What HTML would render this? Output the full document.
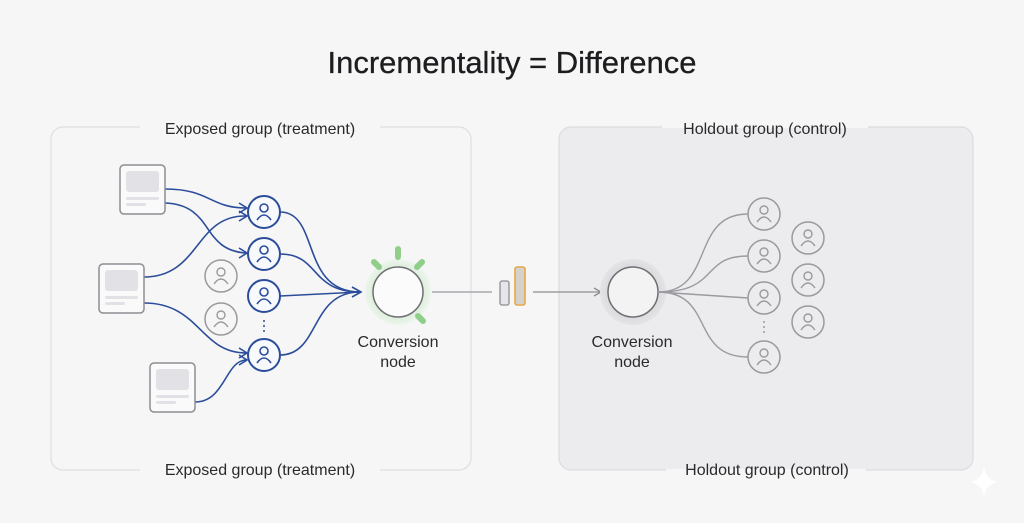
<!DOCTYPE html>
<html><head><meta charset="utf-8"><style>
html,body{margin:0;padding:0;background:#f6f6f7;}
svg{display:block;font-family:"Liberation Sans",sans-serif;}
</style></head><body>
<svg width="1024" height="523" viewBox="0 0 1024 523" xmlns="http://www.w3.org/2000/svg">
<defs>
<g id="pb"><circle r="16" fill="#f8f9fc" stroke="#2b4d9a" stroke-width="2"/><circle cx="0" cy="-4" r="4" fill="none" stroke="#2b4d9a" stroke-width="1.6"/><path d="M-7,8 Q0,-2 7,8" fill="none" stroke="#2b4d9a" stroke-width="1.6"/></g>
<g id="pg"><circle r="16" fill="none" stroke="#9a9a9e" stroke-width="1.5"/><circle cx="0" cy="-4" r="4" fill="none" stroke="#9a9a9e" stroke-width="1.4"/><path d="M-7,8 Q0,-2 7,8" fill="none" stroke="#9a9a9e" stroke-width="1.4"/></g>
<g id="doc"><rect x="0" y="0" width="45" height="49" rx="4" fill="#fafafa" stroke="#8e8e93" stroke-width="1.5"/><rect x="6" y="6" width="33" height="21" rx="3" fill="#e2e2e6"/><rect x="6" y="32" width="33" height="3" rx="1.5" fill="#e2e2e6"/><rect x="6" y="38" width="20" height="3" rx="1.5" fill="#e2e2e6"/></g>
<radialGradient id="gl"><stop offset="0.7" stop-color="#d8ecd6"/><stop offset="1" stop-color="#eef5ee"/></radialGradient>
<radialGradient id="gh"><stop offset="0.7" stop-color="#d9d9dc"/><stop offset="1" stop-color="#e4e4e7"/></radialGradient>
</defs>
<rect width="1024" height="523" fill="#f6f6f7"/>
<text x="512" y="73" font-size="31" text-anchor="middle" fill="#1d1d1f" stroke="#1d1d1f" stroke-width="0.3">Incrementality = Difference</text>
<rect x="51" y="127" width="420" height="343" rx="12" fill="#f6f6f7" stroke="#dedee2" stroke-width="1.2"/>
<rect x="559" y="127" width="414" height="343" rx="12" fill="#ececee" stroke="#dcdce0" stroke-width="1.2"/>
<rect x="140" y="120" width="240" height="14" fill="#f6f6f7"/>
<rect x="140" y="463" width="240" height="14" fill="#f6f6f7"/>
<rect x="662" y="120" width="206" height="8" fill="#f6f6f7"/>
<rect x="666" y="469" width="200" height="8" fill="#f6f6f7"/>
<g font-size="16" fill="#2a2a2c" text-anchor="middle">
<text x="260" y="134">Exposed group (treatment)</text>
<text x="260" y="475">Exposed group (treatment)</text>
<text x="765" y="134">Holdout group (control)</text>
<text x="767" y="475">Holdout group (control)</text>
</g>
<g fill="none" stroke="#2b4d9a" stroke-width="1.6">
<path d="M165,189 C210,189 210,208 246,208"/>
<path d="M165,203 C215,205 200,250 246,253"/>
<path d="M144,277 C200,277 195,215 246,216"/>
<path d="M144,303 C200,303 200,353 246,353"/>
<path d="M195,402 C225,402 225,361 246,360"/>
<path d="M280,212 C320,212 300,292 360,292"/>
<path d="M280,254 C320,254 310,292 360,292"/>
<path d="M280,296 L360,292"/>
<path d="M280,355 C320,355 310,292 360,292"/>
<path d="M352,287 L361,292 L352,297"/>
<path d="M239,203 L247,208 L239,213 M239,248 L247,253 L239,258 M239,211 L247,216 L239,221 M239,348 L247,353 L239,358 M239,355 L247,360 L239,365"/>
</g>
<use href="#doc" x="120" y="165"/>
<use href="#doc" x="99" y="264"/>
<use href="#doc" x="150" y="363"/>
<use href="#pb" x="264" y="212"/>
<use href="#pb" x="264" y="254"/>
<use href="#pb" x="264" y="296"/>
<use href="#pb" x="264" y="355"/>
<use href="#pg" x="221" y="276"/>
<use href="#pg" x="221" y="319"/>
<g fill="#2b4d9a"><circle cx="264" cy="321" r="1"/><circle cx="264" cy="326" r="1"/><circle cx="264" cy="331" r="1"/></g>
<circle cx="398" cy="292" r="33" fill="url(#gl)"/>
<g stroke="#8fcf8a" stroke-width="6" stroke-linecap="round">
<line x1="398" y1="249" x2="398" y2="257"/>
<line x1="374" y1="262" x2="379" y2="267"/>
<line x1="422" y1="262" x2="417" y2="267"/>
<line x1="418" y1="316" x2="423" y2="321"/>
</g>
<circle cx="398" cy="292" r="25" fill="#fbfbfb" stroke="#6e6e73" stroke-width="1.5"/>
<g font-size="16" fill="#2a2a2c" text-anchor="middle">
<text x="398" y="347">Conversion</text><text x="398" y="367">node</text>
<text x="632" y="347">Conversion</text><text x="632" y="367">node</text>
</g>
<line x1="432" y1="292" x2="492" y2="292" stroke="#9a9aa0" stroke-width="1.3"/>
<rect x="500" y="281" width="9" height="24" rx="2" fill="#e6e6ea" stroke="#8e8e93" stroke-width="1.3"/>
<rect x="515" y="267" width="10" height="38" rx="2" fill="#d4d2cc" stroke="#e8a948" stroke-width="1.6"/>
<line x1="533" y1="292" x2="600" y2="292" stroke="#8e8e93" stroke-width="1.3"/>
<path d="M594,288 L601,292 L594,296" fill="none" stroke="#8e8e93" stroke-width="1.3"/>
<circle cx="633" cy="292" r="33" fill="url(#gh)"/>
<circle cx="633" cy="292" r="25" fill="#f3f3f4" stroke="#6e6e73" stroke-width="1.5"/>
<g fill="none" stroke="#9a9aa0" stroke-width="1.4">
<path d="M658,292 C715,292 690,214 748,214"/>
<path d="M658,292 C720,292 700,256 748,256"/>
<path d="M658,292 L748,298"/>
<path d="M658,292 C715,292 690,357 748,357"/>
</g>
<use href="#pg" x="764" y="214"/>
<use href="#pg" x="764" y="256"/>
<use href="#pg" x="764" y="298"/>
<use href="#pg" x="764" y="357"/>
<use href="#pg" x="808" y="238"/>
<use href="#pg" x="808" y="280"/>
<use href="#pg" x="808" y="322"/>
<g fill="#9a9aa0"><circle cx="764" cy="322" r="1"/><circle cx="764" cy="327" r="1"/><circle cx="764" cy="332" r="1"/></g>
<path d="M984,467 Q986,480 998,482 Q986,484 984,497 Q982,484 970,482 Q982,480 984,467Z" fill="#ffffff"/>
</svg>
</body></html>
